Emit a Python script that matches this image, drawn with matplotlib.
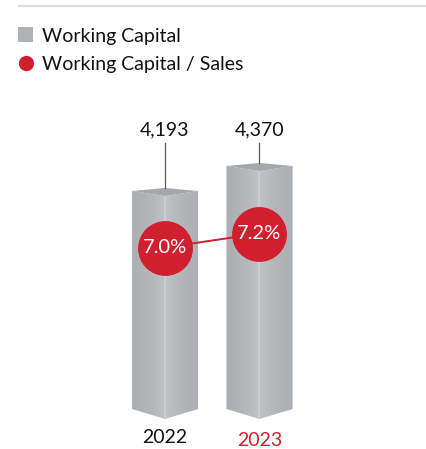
import numpy as np
import matplotlib
matplotlib.use("Agg")
import matplotlib.pyplot as plt
from matplotlib.patches import Polygon, Rectangle
from matplotlib.lines import Line2D
import matplotlib.transforms as mtransforms

plt.rcParams['font.family'] = ['Lato', 'DejaVu Sans']

years = ["2022", "2023"]
working_capital = [4193, 4370]
wc_to_sales = [7.0, 7.2]
value_labels = ["4,193", "4,370"]
pct_labels = ["7.0%", "7.2%"]
year_colors = ["#111111", "#d0202f"]

RED = "#d0202f"
GRAY = "#b0b3b6"

W, H = 427, 449
fig = plt.figure(figsize=(W / 100, H / 100), dpi=100)
ax = fig.add_axes([0, 0, 1, 1])
ax.set_axis_off()

# value axis is truncated: the bars start well above zero
base = 2650
px = 7.078                      # value units per pixel
ax.set_ylim(base - 40 * px, 4370 + 166 * px)
ax.set_xlim(-165 / 94.5, (W - 165) / 94.5)

x = np.arange(len(years))
bw = 0.70
bars = ax.bar(x, np.array(working_capital) - base, bottom=base, width=bw,
              color=GRAY, edgecolor="none", zorder=2)

# horizontal shading for the two visible faces of each prism
grad = np.linspace(0, 1, 256)
shade = np.concatenate([grad, grad[::-1]])
face_cmap = matplotlib.colors.LinearSegmentedColormap.from_list(
    "face", ["#acafb2", "#b3b6b9", "#c0c3c6"])
d_top = 5 * px
d_bot = 10 * px
d_back = 3 * px
ylo, yhi = ax.get_ylim()
trans = mtransforms.blended_transform_factory(ax.transData, ax.transAxes)
for xi, v, bar in zip(x, working_capital, bars):
    hw = bw / 2
    img = ax.imshow(shade[None, :], cmap=face_cmap, aspect="auto",
                    extent=[xi - hw, xi + hw, base - d_bot, v + d_back],
                    zorder=3, interpolation="bilinear")
    body = Polygon([(xi - hw, v), (xi, v - d_top), (xi + hw, v),
                    (xi + hw, base), (xi, base - d_bot), (xi - hw, base)],
                   closed=True, transform=ax.transData)
    img.set_clip_path(body)
    bar.set_visible(False)
    # bright front edge
    ax.plot([xi, xi], [v - d_top, base - d_bot], color="#cdd0d2", lw=1.2,
            zorder=4, solid_capstyle="butt")
    # top cap
    ax.add_patch(Polygon([(xi - hw, v), (xi, v + d_back), (xi + hw, v),
                          (xi, v - d_top)], closed=True,
                         facecolor="#a4a7ab", edgecolor="none", zorder=4))
    # leader line up to the value label
    top_frac = (v + d_back - ylo) / (yhi - ylo)
    ax.plot([xi, xi], [top_frac, 1 - 143 / H], transform=trans,
            color="#5a5a5a", lw=0.9, zorder=5)

for xi, lab in zip(x, value_labels):
    ax.text(xi, 1 - 135 / H, lab, transform=trans, ha="center",
            va="baseline", fontsize=14, color="#111111")

year_base = [443, 446]
for xi, lab, c, yb in zip(x, years, year_colors, year_base):
    ax.text(xi, 1 - yb / H, lab, transform=trans, ha="center",
            va="baseline", fontsize=14, color=c)

# ratio series on its own scale
ax2 = ax.twinx()
ax2.set_axis_off()
ax2.set_ylim(7.0 - (H - 247.5) / 70, 7.0 + 247.5 / 70)
ax2.set_xlim(ax.get_xlim())
ax2.plot(x, wc_to_sales, color=RED, lw=1.4, zorder=5)
ax2.plot(x, wc_to_sales, "o", color=RED, markersize=39.5,
         markeredgewidth=0, zorder=6)
for xi, v, lab in zip(x, wc_to_sales, pct_labels):
    ax2.text(xi, v, lab, ha="center", va="center", fontsize=14.5,
             color="white", zorder=7)

# header rule and legend
fig.add_artist(Line2D([19 / W, 1], [1 - 6 / H, 1 - 6 / H], color="#dcdcdc",
                      lw=1.6))
fig.add_artist(Rectangle((18 / W, 1 - 42 / H), 15 / W, 15 / H,
                         facecolor=GRAY, edgecolor="none"))
fig.add_artist(Line2D([26 / W], [1 - 63 / H], marker="o", color=RED,
                      markersize=11, markeredgewidth=0))
fig.text(42 / W, 1 - 42 / H, "Working Capital", fontsize=14,
         color="#111111", va="baseline", ha="left")
fig.text(42 / W, 1 - 70 / H, "Working Capital / Sales", fontsize=14,
         color="#111111", va="baseline", ha="left")

fig.savefig("out.png", dpi=100)
